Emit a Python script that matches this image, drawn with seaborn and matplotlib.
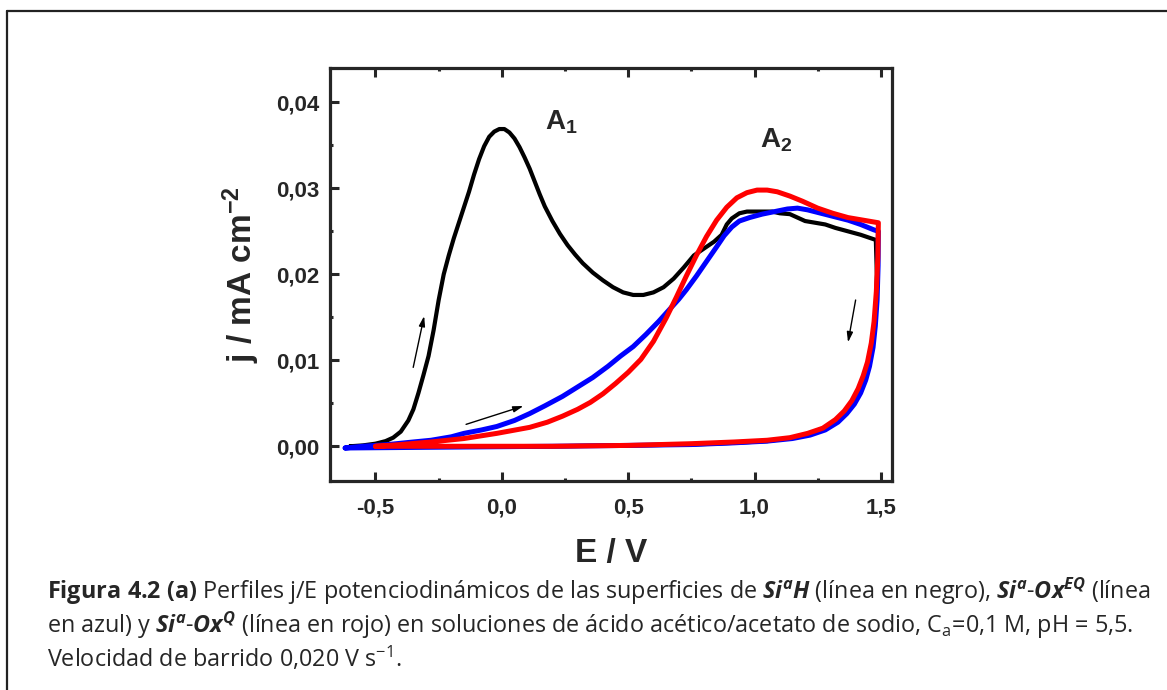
import numpy as np
import pandas as pd
import matplotlib
matplotlib.use("Agg")
import matplotlib.pyplot as plt
import seaborn as sns
from matplotlib.ticker import FuncFormatter, MultipleLocator
from matplotlib.lines import Line2D

# Si(a)H (black): forward sweep, then reverse sweep
sih_E = [-0.60, -0.55, -0.50, -0.46, -0.43, -0.40, -0.37, -0.35, -0.33, -0.31,
         -0.29, -0.27, -0.25, -0.23, -0.21, -0.19, -0.17, -0.15, -0.13, -0.11,
         -0.09, -0.07, -0.05, -0.03, -0.01, 0.01, 0.03, 0.05, 0.07, 0.09,
         0.11, 0.13, 0.15, 0.17, 0.20, 0.23, 0.26, 0.29, 0.32, 0.36,
         0.40, 0.44, 0.48, 0.52, 0.56, 0.60, 0.64, 0.68, 0.72, 0.76,
         0.80, 0.84, 0.87, 0.89, 0.91, 0.94, 0.97, 1.02, 1.07, 1.10,
         1.14, 1.17, 1.20, 1.24, 1.28, 1.32, 1.37, 1.42, 1.47, 1.48,
         1.484, 1.480, 1.472, 1.460, 1.445, 1.425, 1.40, 1.37, 1.33, 1.28,
         1.22, 1.15, 1.05, 0.92, 0.75, 0.50, 0.20, -0.60]
sih_j = [0.0000, 0.0001, 0.0003, 0.0006, 0.0010, 0.0017, 0.0030, 0.0043, 0.0062, 0.0083,
         0.0105, 0.0135, 0.0170, 0.0200, 0.0222, 0.0242, 0.0260, 0.0278, 0.0296, 0.0316,
         0.0334, 0.0349, 0.0360, 0.0366, 0.0369, 0.0369, 0.0365, 0.0358, 0.0348, 0.0336,
         0.0323, 0.0308, 0.0293, 0.0279, 0.0262, 0.0247, 0.0234, 0.0223, 0.0213, 0.0202,
         0.0193, 0.0185, 0.0179, 0.0176, 0.0176, 0.0179, 0.0185, 0.0195, 0.0208, 0.0222,
         0.0230, 0.0238, 0.0246, 0.0258, 0.0265, 0.0271, 0.0273, 0.0273, 0.0273, 0.0271,
         0.0270, 0.0266, 0.0262, 0.0260, 0.0258, 0.0254, 0.0250, 0.0246, 0.0241, 0.0240,
         0.0200, 0.0160, 0.0130, 0.0105, 0.0087, 0.0070, 0.0054, 0.0042, 0.0031, 0.0022,
         0.0015, 0.0010, 0.0006, 0.0004, 0.0002, 0.0001, 0.0000, 0.0000]

# Si(a)-Ox EQ (blue)
eq_E = [-0.62, -0.55, -0.45, -0.35, -0.28, -0.20, -0.15, -0.08, -0.02, 0.05,
        0.11, 0.17, 0.24, 0.30, 0.36, 0.42, 0.47, 0.52, 0.57, 0.62,
        0.66, 0.70, 0.73, 0.77, 0.81, 0.85, 0.88, 0.91, 0.94, 0.98,
        1.03, 1.08, 1.13, 1.17, 1.21, 1.25, 1.29, 1.33, 1.37, 1.42,
        1.47, 1.49,
        1.489, 1.485, 1.478, 1.469, 1.455, 1.44, 1.42, 1.395, 1.365, 1.33,
        1.28, 1.22, 1.15, 1.05, 0.92, 0.75, 0.50, 0.20, -0.62]
eq_j = [-0.0002, 0.0000, 0.0002, 0.0005, 0.0007, 0.0011, 0.0015, 0.0019, 0.0023, 0.0030,
        0.0038, 0.0047, 0.0058, 0.0069, 0.0080, 0.0093, 0.0105, 0.0116, 0.0130, 0.0145,
        0.0158, 0.0171, 0.0182, 0.0198, 0.0215, 0.0232, 0.0245, 0.0255, 0.0262, 0.0266,
        0.0270, 0.0273, 0.0276, 0.0277, 0.0275, 0.0272, 0.0269, 0.0266, 0.0263, 0.0258,
        0.0252, 0.0250,
        0.0210, 0.0170, 0.0140, 0.0115, 0.0093, 0.0077, 0.0062, 0.0049, 0.0038, 0.0028,
        0.0019, 0.0013, 0.0009, 0.0006, 0.0004, 0.0002, 0.0001, 0.0000, -0.0002]

# Si(a)-Ox Q (red)
q_E = [-0.50, -0.40, -0.28, -0.15, -0.02, 0.11, 0.18, 0.24, 0.30, 0.35,
       0.40, 0.45, 0.50, 0.55, 0.60, 0.65, 0.69, 0.73, 0.77, 0.81,
       0.85, 0.89, 0.93, 0.97, 1.01, 1.05, 1.09, 1.14, 1.19, 1.25,
       1.31, 1.37, 1.43, 1.49,
       1.488, 1.482, 1.473, 1.462, 1.447, 1.43, 1.41, 1.385, 1.355, 1.32,
       1.27, 1.21, 1.14, 1.05, 0.92, 0.75, 0.50, 0.20, -0.50]
q_j = [0.0000, 0.0002, 0.0005, 0.0009, 0.0015, 0.0022, 0.0028, 0.0035, 0.0043, 0.0051,
       0.0061, 0.0073, 0.0086, 0.0101, 0.0122, 0.0149, 0.0173, 0.0198, 0.0222, 0.0244,
       0.0263, 0.0278, 0.0289, 0.0295, 0.0298, 0.0298, 0.0296, 0.0291, 0.0285, 0.0277,
       0.0271, 0.0266, 0.0263, 0.0260,
       0.0220, 0.0180, 0.0145, 0.0120, 0.0098, 0.0082, 0.0067, 0.0053, 0.0041, 0.0031,
       0.0021, 0.0015, 0.0010, 0.0007, 0.0005, 0.0003, 0.0001, 0.0000, 0.0000]

bold_font = "Liberation Sans"
cap_font = "Open Sans"

sns.set_style("ticks")
plt.rcParams["font.family"] = [cap_font, "DejaVu Sans"]
plt.rcParams["mathtext.fontset"] = "custom"
plt.rcParams["mathtext.rm"] = cap_font
plt.rcParams["mathtext.it"] = cap_font + ":italic"
plt.rcParams["mathtext.bf"] = cap_font + ":bold"
plt.rcParams["mathtext.bfit"] = cap_font + ":italic:bold"
plt.rcParams["mathtext.sf"] = "Liberation Sans:bold"

fig = plt.figure(figsize=(11.67, 6.9), dpi=100)
ax = fig.add_axes([330 / 1167, 1 - 481 / 690, 562 / 1167, 413 / 690])

sns.lineplot(x=sih_E, y=sih_j, sort=False, estimator=None, color="black", lw=3.0, ax=ax)
sns.lineplot(x=eq_E, y=eq_j, sort=False, estimator=None, color="#0000ff", lw=3.6, ax=ax)
sns.lineplot(x=q_E, y=q_j, sort=False, estimator=None, color="#ff0000", lw=3.6, ax=ax)

ax.set_xlim(-0.68, 1.544)
ax.set_ylim(-0.00404, 0.0440)
ax.xaxis.set_major_locator(MultipleLocator(0.5))
ax.xaxis.set_minor_locator(MultipleLocator(0.25))
ax.yaxis.set_major_locator(MultipleLocator(0.01))
ax.yaxis.set_minor_locator(MultipleLocator(0.005))
ax.xaxis.set_major_formatter(FuncFormatter(lambda v, p: f"{v:.1f}".replace(".", ",")))
ax.yaxis.set_major_formatter(FuncFormatter(lambda v, p: f"{v:.2f}".replace(".", ",")))

for s in ax.spines.values():
    s.set_linewidth(2.3)
ax.tick_params(which="major", direction="in", length=6.5, width=2.2, pad=8,
               labelsize=16, top=False, right=False)
ax.tick_params(which="minor", direction="in", length=2.5, width=2.2, top=False, right=False)
ax.tick_params(axis="x", which="major", pad=12)
for lab in ax.get_xticklabels() + ax.get_yticklabels():
    lab.set_fontfamily(bold_font)
    lab.set_fontweight("bold")
# small marks on the top spine
ax.tick_params(axis="x", which="both", top=True, length=2.5)
ax.tick_params(axis="x", which="major", bottom=True, length=6.5)

ax.set_xlabel("E / V", fontsize=24, fontweight="bold", family=bold_font, labelpad=14)
ax.set_ylabel(r"j / mA cm$^{\mathsf{-2}}$", fontsize=24, fontweight="bold",
              family=bold_font, labelpad=10)

ax.text(0.171, 0.0368, r"A$_{\mathsf{1}}$", fontsize=20, fontweight="bold", family=bold_font)
ax.text(1.022, 0.0348, r"A$_{\mathsf{2}}$", fontsize=20, fontweight="bold", family=bold_font)

arrow = dict(arrowstyle="-|>,head_length=0.6,head_width=0.18", color="black", lw=1.0)
ax.annotate("", xy=(-0.305, 0.01547), xytext=(-0.353, 0.00886), arrowprops=arrow)
ax.annotate("", xy=(0.096, 0.00478), xytext=(-0.152, 0.00245), arrowprops=arrow)
ax.annotate("", xy=(1.368, 0.01177), xytext=(1.402, 0.01733), arrowprops=arrow)

# outer frame of the figure box (left and top edges)
fig.add_artist(Line2D([7 / 1167, 7 / 1167], [0, 1 - 11 / 690], color="#222222", lw=1.6))
fig.add_artist(Line2D([7 / 1167, 1], [1 - 11 / 690, 1 - 11 / 690], color="#222222", lw=1.6))

cap1 = (r"$\mathbf{Figura\ 4.2\ (a)}$ Perfiles j/E potenciodinámicos de las superficies de "
        r"$\mathbfit{Si}^{\mathbfit{a}}\mathbfit{H}$ (línea en negro), "
        r"$\mathbfit{Si}^{\mathbfit{a}}$-$\mathbfit{Ox}^{\mathbfit{EQ}}$ (línea")
cap2 = (r"en azul) y $\mathbfit{Si}^{\mathbfit{a}}$-$\mathbfit{Ox}^{\mathbfit{Q}}$ (línea en rojo) "
        r"en soluciones de ácido acético/acetato de sodio, C$_{\mathrm{a}}$=0,1 M, pH = 5,5.")
cap3 = r"Velocidad de barrido 0,020 V s$^{\mathrm{-1}}$."
for k, line in enumerate([cap1, cap2, cap3]):
    fig.text(47 / 1167, 1 - (599 + 34 * k) / 690, line, fontsize=16.8,
             family=[cap_font, "DejaVu Sans"], va="baseline", ha="left")

fig.savefig("out.png", dpi=100)
